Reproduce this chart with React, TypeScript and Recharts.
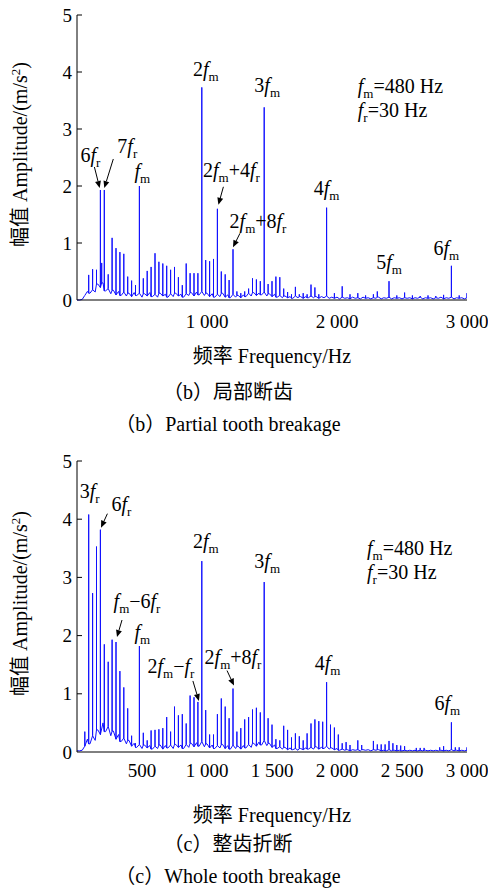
import { ComposedChart, Line, ReferenceDot, XAxis, YAxis } from "recharts";

const FONT = "'Liberation Serif', 'Times New Roman', 'Noto Sans CJK SC', serif";
const INK = "#000";
const BLUE = "#1010ff";
const SUB_DROP = 5;

// spectrum floor is sampled every 20 Hz from 0 to 3000 Hz
const FLOOR_STEP_HZ = 20;

// (b) partial tooth breakage
const B_PEAK_HZ = [
  90, 120, 150, 180, 190, 210, 240, 270, 300, 330, 360, 390, 420, 450, 480, 510, 540, 570, 600, 630,
  660, 690, 720, 750, 780, 810, 840, 870, 900, 930, 960, 990, 1020, 1050, 1080, 1110, 1140, 1170, 1200, 1230,
  1260, 1290, 1320, 1350, 1380, 1410, 1440, 1470, 1500, 1530, 1560, 1590, 1620, 1650, 1680, 1710, 1740, 1770, 1800, 1830,
  1860, 1920, 1980, 2040, 2100, 2160, 2220, 2280, 2310, 2400, 2460, 2520, 2580, 2640, 2700, 2760, 2820, 2880, 2940, 3000,
];
const B_PEAK_AMP = [
  0.44, 0.54, 0.53, 1.93, 0.65, 1.93, 0.45, 1.09, 0.91, 0.84, 0.81, 0.41, 0.34, 0.26, 2.0, 0.38, 0.51, 0.58, 0.82, 0.67,
  0.64, 0.6, 0.53, 0.58, 0.4, 0.26, 0.64, 0.47, 0.47, 0.47, 3.73, 0.7, 0.68, 0.72, 1.6, 0.5, 0.45, 0.35, 0.89, 0.15,
  0.12, 0.15, 0.2, 0.38, 0.36, 0.33, 3.38, 0.28, 0.33, 0.41, 0.4, 0.2, 0.14, 0.1, 0.23, 0.1, 0.12, 0.1, 0.27, 0.22,
  0.1, 1.62, 0.12, 0.24, 0.1, 0.12, 0.08, 0.1, 0.15, 0.33, 0.08, 0.13, 0.08, 0.07, 0.08, 0.07, 0.09, 0.6, 0.08, 0.12,
];
const B_FLOOR = [
  0.0, 0.0, 0.01, 0.08, 0.15, 0.12, 0.18, 0.14, 0.28, 0.22,
  0.3, 0.16, 0.2, 0.11, 0.17, 0.09, 0.15, 0.08, 0.14, 0.07,
  0.12, 0.06, 0.13, 0.08, 0.12, 0.05, 0.11, 0.07, 0.13, 0.06,
  0.1, 0.05, 0.12, 0.07, 0.1, 0.05, 0.11, 0.06, 0.12, 0.07,
  0.1, 0.05, 0.11, 0.08, 0.13, 0.07, 0.14, 0.09, 0.15, 0.08,
  0.12, 0.06, 0.11, 0.05, 0.1, 0.06, 0.12, 0.05, 0.09, 0.04,
  0.1, 0.05, 0.08, 0.04, 0.09, 0.06, 0.12, 0.07, 0.13, 0.08,
  0.12, 0.09, 0.14, 0.07, 0.11, 0.06, 0.1, 0.05, 0.08, 0.04,
  0.07, 0.04, 0.06, 0.03, 0.07, 0.04, 0.06, 0.03, 0.06, 0.04,
  0.07, 0.04, 0.06, 0.03, 0.06, 0.04, 0.07, 0.03, 0.05, 0.03,
  0.05, 0.02, 0.05, 0.03, 0.04, 0.02, 0.05, 0.03, 0.04, 0.02,
  0.05, 0.03, 0.04, 0.02, 0.04, 0.03, 0.05, 0.02, 0.04, 0.03,
  0.05, 0.02, 0.04, 0.03, 0.04, 0.02, 0.04, 0.03, 0.04, 0.02,
  0.04, 0.03, 0.05, 0.02, 0.04, 0.03, 0.04, 0.02, 0.04, 0.03,
  0.05, 0.02, 0.04, 0.03, 0.05, 0.02, 0.04, 0.03, 0.04, 0.02,
  0.04,
];

// (c) whole tooth breakage
const C_PEAK_HZ = [
  60, 90, 120, 150, 180, 210, 240, 270, 300, 330, 360, 390, 420, 450, 480, 510, 540, 570, 600, 630,
  660, 690, 720, 750, 780, 810, 840, 870, 900, 930, 960, 990, 1020, 1050, 1080, 1110, 1140, 1170, 1200, 1230,
  1260, 1290, 1320, 1350, 1380, 1410, 1440, 1470, 1500, 1530, 1560, 1590, 1620, 1650, 1680, 1710, 1740, 1770, 1800, 1830,
  1860, 1890, 1920, 1950, 1980, 2010, 2040, 2070, 2100, 2160, 2190, 2280, 2310, 2340, 2370, 2400, 2430, 2460, 2490, 2520,
  2610, 2640, 2670, 2790, 2820, 2880, 2910, 2940, 3000,
];
const C_PEAK_AMP = [
  0.35, 4.08, 2.73, 3.53, 3.82, 1.85, 1.55, 1.93, 1.89, 1.39, 1.11, 0.75, 0.28, 0.15, 1.82, 0.33, 0.2, 0.37, 0.38, 0.39,
  0.41, 0.6, 0.35, 0.78, 0.63, 0.65, 0.49, 0.97, 0.94, 0.86, 3.28, 0.72, 0.3, 0.3, 0.65, 0.92, 0.78, 0.58, 1.09, 0.35,
  0.41, 0.56, 0.6, 0.73, 0.76, 0.68, 2.92, 0.58, 0.47, 0.22, 0.2, 0.45, 0.38, 0.25, 0.32, 0.27, 0.2, 0.32, 0.49, 0.56,
  0.53, 0.52, 1.2, 0.47, 0.42, 0.3, 0.15, 0.17, 0.12, 0.2, 0.12, 0.19, 0.13, 0.13, 0.13, 0.19, 0.15, 0.12, 0.11, 0.1,
  0.07, 0.07, 0.07, 0.08, 0.1, 0.51, 0.08, 0.08, 0.08,
];
const C_FLOOR = [
  0.02, 0.02, 0.03, 0.1, 0.22, 0.14, 0.28, 0.2, 0.38, 0.3,
  0.5, 0.35, 0.44, 0.28, 0.36, 0.22, 0.3, 0.18, 0.24, 0.14,
  0.2, 0.1, 0.15, 0.08, 0.13, 0.06, 0.12, 0.07, 0.11, 0.05,
  0.1, 0.06, 0.12, 0.05, 0.11, 0.07, 0.12, 0.06, 0.13, 0.08,
  0.12, 0.06, 0.13, 0.08, 0.15, 0.09, 0.16, 0.1, 0.18, 0.09,
  0.14, 0.07, 0.12, 0.06, 0.11, 0.07, 0.13, 0.06, 0.11, 0.05,
  0.12, 0.06, 0.1, 0.05, 0.11, 0.07, 0.13, 0.08, 0.15, 0.1,
  0.17, 0.12, 0.2, 0.11, 0.15, 0.08, 0.12, 0.06, 0.09, 0.05,
  0.08, 0.04, 0.07, 0.04, 0.06, 0.03, 0.06, 0.04, 0.07, 0.05,
  0.08, 0.05, 0.09, 0.05, 0.08, 0.06, 0.1, 0.05, 0.07, 0.04,
  0.06, 0.03, 0.05, 0.03, 0.04, 0.02, 0.04, 0.03, 0.04, 0.02,
  0.04, 0.03, 0.04, 0.02, 0.04, 0.03, 0.04, 0.02, 0.03, 0.02,
  0.04, 0.02, 0.03, 0.02, 0.03, 0.02, 0.03, 0.02, 0.03, 0.02,
  0.03, 0.02, 0.03, 0.02, 0.03, 0.02, 0.03, 0.02, 0.03, 0.02,
  0.03, 0.02, 0.03, 0.02, 0.04, 0.02, 0.03, 0.02, 0.03, 0.02,
  0.03,
];

const B_X_TICKS = [1000, 2000, 3000];
const C_X_TICKS = [500, 1000, 1500, 2000, 2500, 3000];
const Y_TICKS = [0, 1, 2, 3, 4, 5];

const B_NOTES = [
  { hz: 960, text: "2f_m", dx: 4, dy: -11 },
  { hz: 1440, text: "3f_m", dx: 3, dy: -15 },
  { hz: 180, text: "6f_r", dx: -10, dy: -28, arrow: [-6, -23, -0.7, -2] },
  { hz: 210, text: "7f_r", dx: 23, dy: -37, arrow: [9, -31, 0, -2] },
  { hz: 480, text: "f_m", dx: 3, dy: -8 },
  { hz: 1080, text: "2f_m+4f_r", dx: 14, dy: -32, arrow: [6, -22, 1, -4] },
  { hz: 1200, text: "2f_m+8f_r", dx: 25, dy: -21, arrow: [7, -16, 0, -2] },
  { hz: 1920, text: "4f_m", dx: 0, dy: -13 },
  { hz: 2400, text: "5f_m", dx: 0, dy: -12 },
  { hz: 2880, text: "6f_m", dx: -5, dy: -11 },
];
const C_NOTES = [
  { hz: 90, text: "3f_r", dx: 1, dy: -17 },
  { hz: 180, text: "6f_r", dx: 21, dy: -19, arrow: [7, -16, 0.6, -2] },
  { hz: 300, text: "f_m\u22126f_r", dx: 21, dy: -34, arrow: [6, -22, 1, -5] },
  { hz: 480, text: "f_m", dx: 3, dy: -7 },
  { hz: 930, text: "2f_m\u2212f_r", dx: -27, dy: -29, arrow: [-5, -21, 1, -1] },
  { hz: 1200, text: "2f_m+8f_r", dx: 0, dy: -25, arrow: [-6, -18, 1, -3] },
  { hz: 960, text: "2f_m", dx: 4, dy: -13 },
  { hz: 1440, text: "3f_m", dx: 3, dy: -14 },
  { hz: 1920, text: "4f_m", dx: 1, dy: -12 },
  { hz: 2880, text: "6f_m", dx: -4, dy: -12 },
];

const INFO_LINES = ["f_m=480 Hz", "f_r=30 Hz"];

// each spectral line rises straight up from the floor sample nearest to it
function buildSpectrum(floor: number[], peakHz: number[], peakAmp: number[]) {
  const pts = floor.map((amp, i) => ({ hz: i * FLOOR_STEP_HZ, amp, ord: 0 }));
  peakHz.forEach((hz, i) => {
    const base = floor[Math.min(floor.length - 1, Math.round(hz / FLOOR_STEP_HZ))];
    pts.push({ hz, amp: base, ord: 1 });
    pts.push({ hz, amp: peakAmp[i], ord: 2 });
    pts.push({ hz, amp: base, ord: 3 });
  });
  pts.sort((p, q) => p.hz - q.hz || p.ord - q.ord);
  return pts;
}

const fmtHz = (v: number) => String(v).replace(/\B(?=(\d{3})+(?!\d))/g, " ");

function RichText({ x, y, text, anchor = "middle" }: any) {
  const parts: { t: string; kind: string }[] = [];
  let buf = "";
  const flush = () => {
    if (buf) parts.push({ t: buf, kind: "n" });
    buf = "";
  };
  for (let i = 0; i < text.length; i++) {
    const ch = text[i];
    if (ch === "_") {
      flush();
      parts.push({ t: text[i + 1], kind: "sub" });
      i++;
    } else if (ch === "f") {
      flush();
      parts.push({ t: "f", kind: "it" });
    } else {
      buf += ch;
    }
  }
  flush();
  let shift = 0;
  return (
    <text x={x} y={y} textAnchor={anchor} fontFamily={FONT} fontSize={20} fill={INK}>
      {parts.map((p, k) => {
        const target = p.kind === "sub" ? SUB_DROP : 0;
        const dy = target - shift;
        shift = target;
        return (
          <tspan
            key={k}
            dy={dy || undefined}
            fontStyle={p.kind === "it" ? "italic" : undefined}
            fontSize={p.kind === "sub" ? 13 : undefined}
          >
            {p.t}
          </tspan>
        );
      })}
    </text>
  );
}

function Arrow({ x1, y1, x2, y2 }: any) {
  const dx = x2 - x1;
  const dy = y2 - y1;
  const len = Math.hypot(dx, dy) || 1;
  const ux = dx / len;
  const uy = dy / len;
  const bx = x2 - ux * 7;
  const by = y2 - uy * 7;
  const pts = `${x2},${y2} ${bx - uy * 3},${by + ux * 3} ${bx + uy * 3},${by - ux * 3}`;
  return (
    <g>
      <line x1={x1} y1={y1} x2={bx} y2={by} stroke={INK} strokeWidth={1} />
      <polygon points={pts} fill={INK} />
    </g>
  );
}

function NoteLabel({ viewBox, note }: any) {
  if (!viewBox) return null;
  const px = viewBox.x;
  const py = viewBox.y;
  return (
    <g>
      <RichText x={px + note.dx} y={py + note.dy} text={note.text} />
      {note.arrow && (
        <Arrow
          x1={px + note.arrow[0]}
          y1={py + note.arrow[1]}
          x2={px + note.arrow[2]}
          y2={py + note.arrow[3]}
        />
      )}
    </g>
  );
}

function InfoLabel({ viewBox, gap }: any) {
  if (!viewBox) return null;
  return (
    <g>
      {INFO_LINES.map((t, i) => (
        <RichText key={t} x={viewBox.x} y={viewBox.y + i * gap} text={t} anchor="start" />
      ))}
    </g>
  );
}

function YTick({ x, y, payload }: any) {
  return (
    <g>
      <text x={x} y={y} dy="0.35em" textAnchor="end" fontFamily={FONT} fontSize={19} fill={INK}>
        {payload.value}
      </text>
      {payload.value > 0 && <line x1={x + 5} x2={x + 10} y1={y} y2={y} stroke={INK} strokeWidth={1} />}
    </g>
  );
}

function YTitle({ viewBox }: any) {
  if (!viewBox) return null;
  const cx = viewBox.x + 27;
  const cy = viewBox.y + viewBox.height / 2 - 3;
  return (
    <text
      x={cx}
      y={cy}
      transform={`rotate(-90, ${cx}, ${cy})`}
      textAnchor="middle"
      fontFamily={FONT}
      fontSize={20}
      fill={INK}
    >
      幅值 Amplitude/(m/s
      <tspan dy={-7} fontSize={13}>
        2
      </tspan>
      <tspan dy={7}>)</tspan>
    </text>
  );
}

function Spectrum({ data, peakHz, peakAmp, notes, xTicks, top, height, marginTop, tickMargin, info }: any) {
  const ampAt = (hz: number) => peakAmp[peakHz.indexOf(hz)];
  return (
    <div style={{ position: "absolute", left: 0, top }}>
      <ComposedChart width={488} height={height} data={data} margin={{ top: marginTop, right: 21, bottom: 0, left: 0 }}>
        <XAxis
          dataKey="hz"
          type="number"
          domain={[0, 3000]}
          ticks={xTicks}
          interval={0}
          allowDataOverflow
          height={75}
          tickSize={0}
          tickMargin={tickMargin}
          tickFormatter={fmtHz}
          tick={{ fontFamily: FONT, fontSize: 19, fill: INK }}
          axisLine={{ stroke: INK, strokeWidth: 1 }}
        />
        <YAxis
          type="number"
          domain={[0, 5]}
          ticks={Y_TICKS}
          interval={0}
          width={77}
          tickSize={0}
          tickMargin={5}
          tickLine={false}
          tick={<YTick />}
          axisLine={{ stroke: INK, strokeWidth: 1 }}
          label={<YTitle />}
        />
        <Line
          dataKey="amp"
          type="linear"
          stroke={BLUE}
          strokeWidth={1}
          dot={false}
          activeDot={false}
          isAnimationActive={false}
        />
        {notes.map((n: any) => (
          <ReferenceDot
            key={n.text + n.hz}
            x={n.hz}
            y={ampAt(n.hz)}
            r={0}
            fill="none"
            stroke="none"
            label={<NoteLabel note={n} />}
          />
        ))}
        <ReferenceDot
          x={info.hz}
          y={info.amp}
          r={0}
          fill="none"
          stroke="none"
          label={<InfoLabel gap={info.gap} />}
        />
      </ComposedChart>
    </div>
  );
}

const B_DATA = buildSpectrum(B_FLOOR, B_PEAK_HZ, B_PEAK_AMP);
const C_DATA = buildSpectrum(C_FLOOR, C_PEAK_HZ, C_PEAK_AMP);

export default function App() {
  return (
    <div style={{ position: "absolute", left: 0, top: 0, width: 488, height: 892, background: "#fff" }}>
      <Spectrum
        data={B_DATA}
        peakHz={B_PEAK_HZ}
        peakAmp={B_PEAK_AMP}
        notes={B_NOTES}
        xTicks={B_X_TICKS}
        top={0}
        height={375}
        marginTop={15}
        tickMargin={15}
        info={{ hz: 2160, amp: 3.63, gap: 24 }}
      />
      <Spectrum
        data={C_DATA}
        peakHz={C_PEAK_HZ}
        peakAmp={C_PEAK_AMP}
        notes={C_NOTES}
        xTicks={C_X_TICKS}
        top={446}
        height={381}
        marginTop={15}
        tickMargin={12}
        info={{ hz: 2231, amp: 3.38, gap: 24 }}
      />
      <svg width={488} height={892} style={{ position: "absolute", left: 0, top: 0, pointerEvents: "none" }}>
        <g fontFamily={FONT} fontSize={20} fill={INK} textAnchor="middle">
          <text x={272} y={363}>频率 Frequency/Hz</text>
          <text x={272} y={822}>频率 Frequency/Hz</text>
          <text x={228} y={399}>（b）局部断齿</text>
          <text x={228} y={431}>（b）Partial tooth breakage</text>
          <text x={228} y={851}>（c）整齿折断</text>
          <text x={228} y={883}>（c）Whole tooth breakage</text>
        </g>
      </svg>
    </div>
  );
}
